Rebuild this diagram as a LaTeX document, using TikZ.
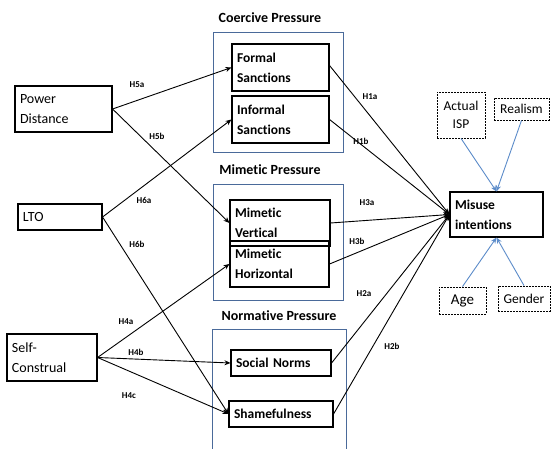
\documentclass[tikz,border=0pt]{standalone}
\usepackage{fontspec}
\setmainfont{Carlito}[Ligatures=NoCommon]
\usetikzlibrary{arrows.meta}
\definecolor{grpblue}{HTML}{4A6A9A}
\definecolor{arrblue}{HTML}{5B8BC9}
\begin{document}
\begin{tikzpicture}[x=1pt,y=-1pt,
  box/.style={draw, line width=1.1pt, inner xsep=5pt, inner ysep=0pt, align=left, font=\fontsize{14}{20}\selectfont},
  bbox/.style={box, font=\bfseries\fontsize{13.5}{20}\selectfont},
  dbox/.style={draw, dash pattern=on 2pt off 1pt, line width=0.9pt, inner xsep=2pt, inner ysep=0pt, align=center, font=\fontsize{13.5}{18}\selectfont},
  grp/.style={draw=grpblue, line width=0.8pt},
  title/.style={font=\bfseries\fontsize{14}{16}\selectfont, inner sep=0pt},
  hlab/.style={font=\bfseries\fontsize{9}{10}\selectfont, inner sep=0pt},
  arr/.style={line width=0.9pt, -{Stealth[length=6pt,width=5pt]}},
  barr/.style={draw=arrblue, line width=0.9pt, -{Stealth[length=6pt,width=5pt]}}
]
\useasboundingbox (0,0) rectangle (552,449);

% group boxes
\node[grp, minimum width=130pt, minimum height=120pt, inner sep=0pt] (gc) at (278,92) {};
\node[grp, minimum width=130pt, minimum height=116pt, inner sep=0pt] (gm) at (278,242) {};
\draw[grp] (212,449) -- (212,329) -- (346,329) -- (346,449);

\node[title] (tc) at (270,18) {Coercive Pressure};
\node[title] (tm) at (270,170) {Mimetic Pressure};
\node[title] (tn) at (279,316) {Normative Pressure};

% left boxes
\node[box, minimum width=97pt, minimum height=46pt, text width=87pt] (PD) at (63.5,109) {Power\\Distance};
\node[box, minimum width=84pt, minimum height=26pt, text width=74pt] (LTO) at (60,217) {LTO};
\node[box, minimum width=90pt, minimum height=47pt, text width=80pt] (SC) at (52,357.5) {Self-\\Construal};

% middle boxes
\node[bbox, minimum width=97pt, minimum height=47pt, text width=87pt] (FS) at (280.5,67.5) {Formal\\Sanctions};
\node[bbox, minimum width=97pt, minimum height=47pt, text width=87pt] (IS) at (280.5,119.5) {Informal\\Sanctions};
\node[bbox, minimum width=99pt, minimum height=46pt, text width=89pt] (MH) at (279.5,264) {Mimetic\\Horizontal};
\node[bbox, minimum width=100pt, minimum height=46pt, text width=90pt] (MV) at (280,223) {Mimetic\\Vertical};
\node[bbox, minimum width=100pt, minimum height=26pt, text width=90pt] (SN) at (281,363) {Social Norms};
\node[bbox, minimum width=104pt, minimum height=26pt, text width=94pt] (SH) at (281,414) {Shamefulness};

% right
\node[bbox, minimum width=93pt, minimum height=45pt, text width=83pt] (MI) at (496.5,214.5) {Misuse\\intentions};
\node[dbox, minimum width=48pt, minimum height=46pt] (AI) at (461,115) {Actual\\ISP};
\node[dbox, minimum width=55pt, minimum height=22pt] (RE) at (521.5,109) {Realism};
\node[dbox, minimum width=47pt, minimum height=27pt, font=\fontsize{15}{16}\selectfont] (AG) at (462.5,300.5) {Age};
\node[dbox, minimum width=52pt, minimum height=25pt] (GE) at (524,298.5) {Gender};

% left arrows
\draw[arr] (PD.east) -- (FS.west);
\draw[arr] (PD.east) -- (MV.west);
\draw[arr] (LTO.east) -- (IS.west);
\draw[arr] (LTO.east) -- (SH.west);
\draw[arr] (SC.east) -- (MH.west);
\draw[arr] (SC.east) -- (SN.west);
\draw[arr] (SC.east) -- (SH.west);

% to misuse
\draw[arr] ([yshift=2pt]FS.east) -- (MI.west);
\draw[arr] (IS.east) -- (MI.west);
\draw[arr] (MV.east) -- (MI.west);
\draw[arr] (MH.east) -- (MI.west);
\draw[arr] (SN.east) -- (MI.west);
\draw[arr] (SH.east) -- (MI.west);

% blue arrows
\draw[barr] (AI.south) -- (MI.north);
\draw[barr] (RE.south) -- (MI.north);
\draw[barr] (AG.north) -- (MI.south);
\draw[barr] (GE.north) -- (MI.south);

% labels
\node[hlab] (l5a) at (137,85) {H5a};
\node[hlab] (l5b) at (157,136) {H5b};
\node[hlab] (l6a) at (144,200) {H6a};
\node[hlab] (l6b) at (137,244) {H6b};
\node[hlab] (l4a) at (126,322) {H4a};
\node[hlab] (l4b) at (136,352) {H4b};
\node[hlab] (l4c) at (129,396) {H4c};
\node[hlab] (l1a) at (370,97) {H1a};
\node[hlab] (l1b) at (361,141) {H1b};
\node[hlab] (l3a) at (367,203) {H3a};
\node[hlab] (l3b) at (357,241) {H3b};
\node[hlab] (l2a) at (364,294) {H2a};
\node[hlab] (l2b) at (392,346) {H2b};
\end{tikzpicture}
\end{document}
